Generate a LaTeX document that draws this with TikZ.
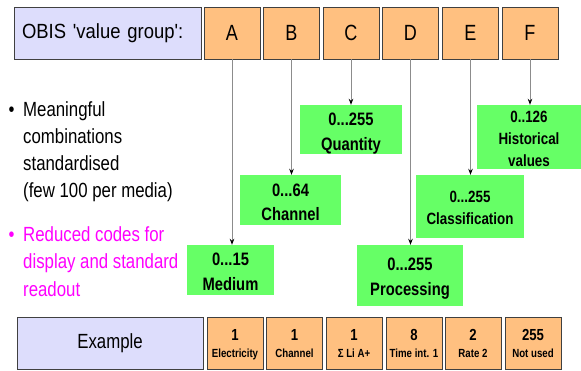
\documentclass[tikz,border=0pt]{standalone}
\usepackage{fontspec}
\setmainfont[FakeStretch=0.82]{Liberation Sans}
\newfontfamily\widesans[FakeStretch=0.9]{Liberation Sans}
\usetikzlibrary{arrows.meta}
\definecolor{hdrblue}{HTML}{DDDDFC}
\definecolor{fieldorange}{HTML}{FFC080}
\definecolor{rangegreen}{HTML}{66FF66}
\definecolor{notepink}{HTML}{FF00FF}
\definecolor{boxline}{HTML}{404040}
\definecolor{leadgrey}{HTML}{8C8C8C}
\begin{document}
\begin{tikzpicture}[x=1pt,y=-1pt,
  headbox/.style={draw=boxline, line width=0.9pt, fill=hdrblue,
    minimum width=187pt, minimum height=52pt, inner sep=0pt},
  fieldbox/.style={draw=boxline, line width=0.9pt, fill=fieldorange,
    minimum width=56pt, minimum height=52pt, inner sep=0pt,
    font=\fontsize{22}{26}\selectfont},
  % two-line example value: last baseline 12pt above the bottom edge
  valbox/.style={draw=boxline, line width=0.9pt, fill=fieldorange,
    minimum width=56pt, minimum height=52pt, inner sep=0pt, align=center,
    text depth=0pt, text height=28pt,
    font=\bfseries\fontsize{16}{18}\selectfont},
  rangebox/.style={fill=rangegreen, inner sep=0pt, align=center,
    font=\bfseries\fontsize{18}{24.5}\selectfont},
  smallrange/.style={rangebox, font=\bfseries\fontsize{16.3}{22}\selectfont},
  % size {width}{height}{gap from last baseline to bottom edge}
  gsize/.style n args={3}{minimum width=#1, minimum height=#2,
    text depth=0pt, text height=#2-2*#3},
  lead/.style={draw=leadgrey, line width=0.8pt,
    -{Stealth[black,length=6pt,width=4.5pt]}},
  notetext/.style={anchor=base west, inner sep=0pt, align=left,
    font=\fontsize{20.5}{27.3}\selectfont},
]
\useasboundingbox (0,0) rectangle (581,370);

% header row: value group letters
\node[headbox, align=left, text width=171pt,
  font=\widesans\fontsize{20.5}{24}\selectfont] (obis) at (107.5,33) {OBIS 'value group':};
\node[fieldbox] (fA) at (232,33)   {A};
\node[fieldbox] (fB) at (291.5,33) {B};
\node[fieldbox] (fC) at (351,33)   {C};
\node[fieldbox] (fD) at (410.5,33) {D};
\node[fieldbox] (fE) at (470.5,33) {E};
\node[fieldbox] (fF) at (530,33)   {F};

% value ranges of each group
\node[rangebox, gsize={87pt}{50pt}{5pt}]      (medium)     at (230.5,270)  {0...15\\Medium};
\node[rangebox, gsize={101pt}{50pt}{4.5pt}]   (channel)    at (290.5,200)  {0...64\\Channel};
\node[rangebox, gsize={102pt}{49pt}{4pt}]     (quantity)   at (351,129.5)  {0...255\\Quantity};
\node[rangebox, gsize={106pt}{61pt}{11pt}]    (processing) at (410,275.5)  {0...255\\Processing};
\node[smallrange, gsize={108pt}{63pt}{14pt}]  (classif)    at (470,206.5)  {0...255\\Classification};
\node[smallrange, gsize={104pt}{64pt}{3pt}]   (histor)     at (529,137)    {0..126\\Historical\\values};

% leaders from the letters down to their ranges
\draw[lead] (fA.south) -- (fA.south |- medium.north);
\draw[lead] (fB.south) -- (fB.south |- channel.north);
\draw[lead] (fC.south) -- (fC.south |- quantity.north);
\draw[lead] (fD.south) -- (fD.south |- processing.north);
\draw[lead] (fE.south) -- (fE.south |- classif.north);
\draw[lead] (fF.south) -- (fF.south |- histor.north);

% remarks on the left (node base = baseline of the last line)
\node[notetext] (dot1) at (8.5,116) {•};
\node[notetext] (note1) at (23,197.9) {Meaningful\\combinations\\standardised\\(few 100 per media)};
\node[notetext, text=notepink] (dot2) at (8.5,241.5) {•};
\node[notetext, text=notepink] (note2) at (23,296.1) {Reduced codes for\\display and standard\\readout};

% example row
\node[headbox, minimum width=186pt, font=\fontsize{20.5}{24}\selectfont] (example) at (110,343) {Example};
\newcommand{\valname}[1]{{\fontsize{11.8}{13}\selectfont #1}}
\node[valbox] (v1) at (235,343)   {1\\[-1pt]\valname{Electricity}};
\node[valbox] (v2) at (294.5,343) {1\\[-1pt]\valname{Channel}};
\node[valbox] (v3) at (354,343)   {1\\[-1pt]\valname{Σ Li A+}};
\node[valbox] (v4) at (414,343)   {8\\[-1pt]\valname{Time int. 1}};
\node[valbox] (v5) at (473,343)   {2\\[-1pt]\valname{Rate 2}};
\node[valbox] (v6) at (533,343)   {255\\[-1pt]\valname{Not used}};
\end{tikzpicture}
\end{document}
